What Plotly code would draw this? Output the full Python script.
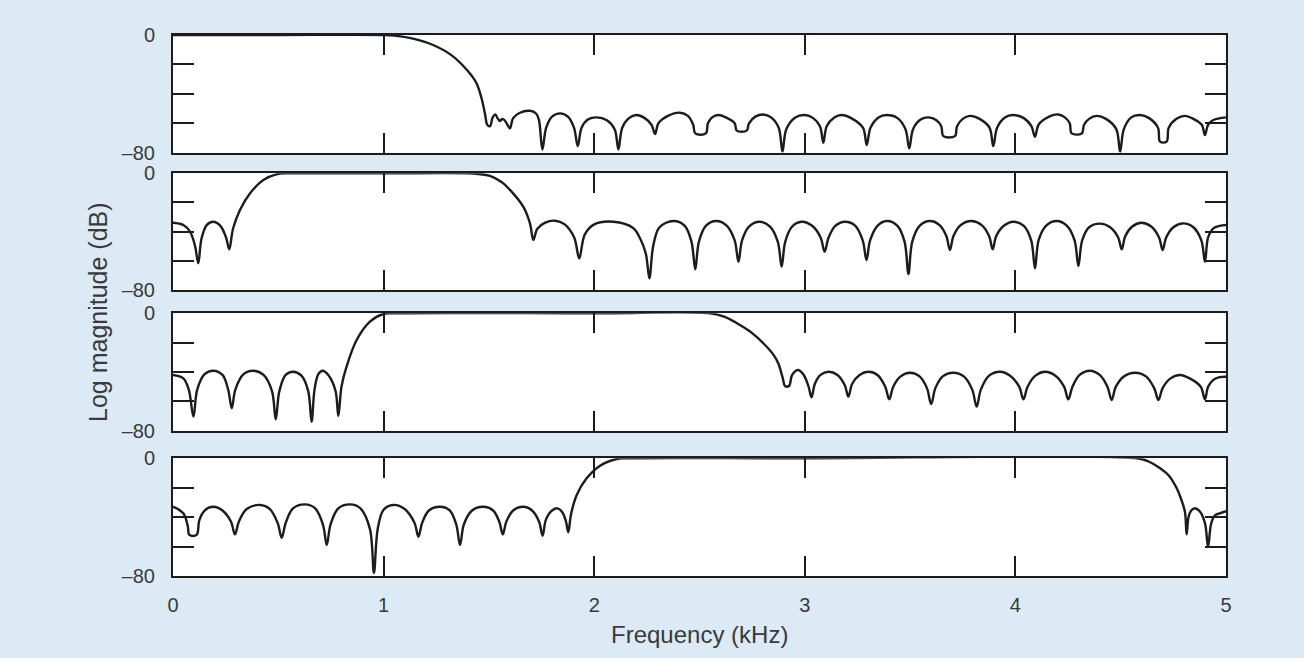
import plotly.graph_objects as go

# ---------------- data: [frequency kHz, magnitude dB] ----------------
panel1_points = [
    [0.0, 0], [0.5, 0], [1.0, 0], [1.05, -0.4], [1.14, -2.5], [1.235, -6.8], [1.32, -13.5], [1.396, -23.8],
    [1.44, -32.5], [1.465, -43], [1.482, -54], [1.492, -61], [1.505, -62], [1.518, -56], [1.53, -54],
    [1.543, -57], [1.553, -58.5], [1.563, -57], [1.575, -58], [1.588, -61], [1.600, -63.5],
    [1.615, -56.5], [1.645, -53], [1.695, -51.5], [1.725, -53.5], [1.738, -58], [1.754, -77.8],
    [1.772, -63], [1.80, -55.5], [1.838, -53.3], [1.875, -55.5], [1.904, -63], [1.922, -75.5],
    [1.94, -63], [1.97, -57.5], [2.012, -56], [2.06, -58], [2.097, -64], [2.115, -77.8],
    [2.133, -63], [2.165, -56.5], [2.20, -54.4], [2.24, -56.5], [2.272, -61], [2.289, -67.3],
    [2.305, -60], [2.35, -55], [2.407, -52.8], [2.445, -55], [2.47, -61], [2.48, -66.9], [2.53, -66.9],
    [2.54, -60], [2.56, -56], [2.59, -54.4], [2.625, -56], [2.667, -60], [2.677, -65], [2.724, -65],
    [2.735, -60], [2.765, -55.5], [2.803, -54], [2.84, -56], [2.876, -63], [2.894, -79.3],
    [2.912, -64], [2.955, -56], [3.0, -54.4], [3.04, -56.5], [3.072, -62], [3.088, -73.2],
    [3.104, -62], [3.14, -56], [3.175, -54.4], [3.22, -56.5], [3.276, -63], [3.294, -74.8],
    [3.312, -63], [3.35, -56], [3.389, -54.4], [3.44, -56.5], [3.478, -64], [3.496, -77],
    [3.514, -64], [3.55, -57.5], [3.587, -56], [3.625, -58], [3.648, -62], [3.658, -68.7], [3.713, -68.7],
    [3.723, -62], [3.75, -57], [3.784, -55], [3.83, -57], [3.877, -63], [3.895, -75.5],
    [3.913, -63], [3.95, -56], [3.99, -54.4], [4.04, -56.5], [4.076, -62], [4.093, -69.2],
    [4.11, -61], [4.16, -55.5], [4.204, -54], [4.235, -56], [4.258, -60], [4.267, -66.9], [4.315, -66.9],
    [4.326, -61], [4.35, -57], [4.386, -55], [4.43, -57], [4.479, -64], [4.497, -79.3],
    [4.515, -64], [4.55, -56], [4.592, -54.4], [4.635, -56.5], [4.677, -63], [4.687, -72.5], [4.718, -72.5],
    [4.728, -63], [4.765, -57], [4.805, -55], [4.845, -57], [4.885, -61], [4.90, -68],
    [4.915, -61], [4.94, -57.8], [5.0, -56],
]

panel2_points = [
    [0.0, -33.9], [0.049, -35.4], [0.081, -40], [0.105, -50], [0.12, -61.7],
    [0.135, -45], [0.16, -35.5], [0.191, -33.2], [0.225, -36], [0.252, -44], [0.267, -52.1],
    [0.285, -38], [0.318, -25.2], [0.366, -13.7], [0.429, -4.6], [0.508, -0.2], [0.56, 0], [1.0, 0],
    [1.40, 0], [1.45, -0.5], [1.505, -1.8], [1.56, -6], [1.60, -11.4], [1.663, -22.9], [1.695, -34.3],
    [1.711, -45.7],
    [1.73, -38], [1.765, -34], [1.814, -32.5], [1.86, -35], [1.905, -44], [1.929, -58.3],
    [1.955, -42], [2.0, -35], [2.091, -33.2], [2.185, -37.5], [2.217, -44.4], [2.245, -55], [2.262, -72],
    [2.28, -50], [2.31, -37], [2.376, -32.7], [2.43, -36], [2.462, -47], [2.48, -65.8],
    [2.497, -47], [2.53, -36], [2.58, -32.7], [2.63, -36], [2.667, -46], [2.685, -60.6],
    [2.702, -46], [2.735, -36.5], [2.786, -33.2], [2.835, -36.5], [2.872, -47], [2.89, -64],
    [2.907, -47], [2.94, -36.5], [2.984, -33.2], [3.035, -36], [3.075, -44], [3.094, -53.7],
    [3.113, -44], [3.145, -36], [3.191, -33.2], [3.24, -36], [3.275, -46], [3.293, -59.4],
    [3.31, -46], [3.345, -36], [3.389, -32.7], [3.44, -36], [3.474, -47], [3.492, -69],
    [3.51, -47], [3.545, -36], [3.594, -32.7], [3.64, -35.5], [3.672, -43], [3.689, -52.6],
    [3.706, -43], [3.74, -35.5], [3.792, -32.7], [3.84, -35.5], [3.875, -43], [3.892, -52.1],
    [3.909, -43], [3.945, -36], [3.99, -33.2], [4.04, -36], [4.075, -46], [4.093, -65.1],
    [4.11, -46], [4.145, -36], [4.196, -32.7], [4.245, -36], [4.281, -46], [4.299, -63.5],
    [4.317, -46], [4.35, -37], [4.401, -34.5], [4.45, -37], [4.488, -44], [4.505, -52.1],
    [4.522, -43], [4.555, -36.5], [4.598, -33.9], [4.645, -36.5], [4.682, -44], [4.699, -52.6],
    [4.716, -44], [4.75, -37], [4.797, -34.3], [4.845, -37], [4.883, -46], [4.90, -60.6],
    [4.915, -44], [4.94, -37.7], [4.97, -36], [5.0, -35.4],
]

panel3_points = [
    [0.0, -42], [0.049, -44.3], [0.075, -52], [0.097, -70.4],
    [0.115, -52], [0.15, -41.5], [0.191, -39.1], [0.235, -42], [0.262, -52], [0.279, -64.7],
    [0.296, -52], [0.335, -41.5], [0.381, -39.1], [0.43, -42], [0.47, -53], [0.488, -72.2],
    [0.505, -53], [0.535, -42], [0.571, -39.8], [0.61, -42.5], [0.642, -53], [0.658, -73.9],
    [0.672, -52], [0.69, -41.5], [0.711, -39.1], [0.74, -42.5], [0.772, -53], [0.785, -70],
    [0.80, -50], [0.824, -36.4], [0.872, -18.2], [0.935, -5.7], [0.998, -0.5], [1.05, 0], [2.0, 0],
    [2.55, 0], [2.62, -2.5], [2.692, -8], [2.75, -13.5], [2.803, -20.4], [2.85, -28], [2.874, -34],
    [2.895, -44], [2.906, -49.5], [2.925, -49.5],
    [2.94, -42], [2.968, -38.6], [2.995, -42], [3.018, -50], [3.032, -57.2],
    [3.048, -48], [3.075, -42], [3.112, -39.8], [3.155, -42], [3.19, -49], [3.207, -56.8],
    [3.225, -48], [3.26, -42], [3.302, -39.8], [3.345, -42], [3.382, -50], [3.401, -58.6],
    [3.42, -50], [3.455, -43], [3.50, -40.5], [3.545, -43], [3.58, -51], [3.60, -61.8],
    [3.62, -51], [3.655, -43], [3.705, -40.5], [3.755, -43], [3.795, -52], [3.816, -63.6],
    [3.836, -52], [3.875, -42.5], [3.927, -39.8], [3.975, -42.5], [4.018, -50], [4.038, -58.6],
    [4.058, -50], [4.095, -42.5], [4.14, -39.8], [4.19, -42.5], [4.231, -50], [4.251, -58.6],
    [4.271, -50], [4.305, -42], [4.354, -39.1], [4.4, -42], [4.437, -50], [4.457, -59.1],
    [4.477, -50], [4.515, -43], [4.568, -40.5], [4.62, -43], [4.659, -51], [4.679, -59.1],
    [4.699, -51], [4.735, -44.5], [4.782, -42], [4.83, -44.5], [4.88, -50], [4.90, -58.6],
    [4.915, -50], [4.94, -45.4], [4.97, -43.5], [5.0, -43.2],
]

panel4_points = [
    [0.0, -32.9], [0.049, -37.4], [0.07, -46], [0.078, -52.1], [0.112, -52.1],
    [0.125, -42], [0.15, -35.5], [0.191, -32.9], [0.235, -35.5], [0.275, -43], [0.294, -51.7],
    [0.313, -43], [0.35, -34.5], [0.413, -31.7], [0.46, -34.5], [0.497, -44], [0.516, -54],
    [0.535, -44], [0.57, -34], [0.627, -31.3], [0.675, -34], [0.712, -45], [0.73, -58.9],
    [0.748, -45], [0.785, -34], [0.84, -31.3], [0.89, -34], [0.935, -48], [0.954, -77.8],
    [0.972, -48], [1.0, -35], [1.046, -31.7], [1.1, -34.5], [1.147, -44], [1.165, -53.3],
    [1.183, -44], [1.215, -35.5], [1.268, -32.9], [1.315, -35.5], [1.345, -45], [1.363, -58.9],
    [1.381, -45], [1.42, -35.5], [1.473, -32.9], [1.52, -35.5], [1.549, -43], [1.566, -51.7],
    [1.583, -43], [1.615, -35.5], [1.663, -32.9], [1.705, -35.5], [1.738, -43], [1.755, -52.6],
    [1.77, -42], [1.795, -36], [1.825, -34], [1.85, -37], [1.866, -43], [1.877, -50.3],
    [1.89, -38], [1.917, -24.9], [1.964, -13.6], [2.028, -5], [2.107, -0.5], [2.15, 0], [3.0, 0],
    [4.576, 0], [4.63, -2], [4.687, -6.8], [4.73, -12], [4.766, -20.4], [4.785, -27], [4.805, -36.3],
    [4.813, -51.7],
    [4.822, -40], [4.835, -35.5], [4.852, -34], [4.875, -36], [4.9, -44], [4.915, -60.1],
    [4.93, -44], [4.95, -38.5], [4.97, -37.4], [5.0, -36],
]

x_tick_vals = [0, 1, 2, 3, 4, 5]
x_tick_text = ["0", "1", "2", "3", "4", "5"]
y_tick_vals = [0, -20, -40, -60, -80]
y_tick_text = ["0", "", "", "", "\u201380"]
x_title = "Frequency (kHz)"
y_title = "Log magnitude (dB)"

# ---------------- figure ----------------
W, H = 1304, 658
x_dom = [173 / W, 1226 / W]
panels_px = [(35, 152.7), (173.3, 290), (313.3, 430.7), (458.3, 576)]
series = [panel1_points, panel2_points, panel3_points, panel4_points]

font_family = "Liberation Sans, Arial, Helvetica, sans-serif"
txt_color = "#3a3a3a"
ink = "#1c1c1c"

fig = go.Figure()
layout_axes = {}
for i, (pts, (top, bot)) in enumerate(zip(series, panels_px), start=1):
    sfx = "" if i == 1 else str(i)
    fig.add_trace(go.Scatter(
        x=[p[0] for p in pts], y=[p[1] for p in pts], mode="lines",
        line=dict(color=ink, width=2.4, shape="spline", smoothing=1.0),
        xaxis="x" + sfx, yaxis="y" + sfx, showlegend=False, hoverinfo="skip"))
    last = (i == 4)
    layout_axes["xaxis" + sfx] = dict(
        domain=x_dom, anchor="y" + sfx, range=[0, 5],
        tickvals=x_tick_vals if last else x_tick_vals[1:-1],
        ticktext=x_tick_text if last else None,
        showticklabels=last, automargin=False,
        ticks="inside", ticklen=20, tickwidth=1.5, tickcolor=ink,
        showline=True, linecolor=ink, linewidth=2, mirror="ticks",
        showgrid=False, zeroline=False, ticklabelstandoff=10,
        tickfont=dict(family=font_family, size=20, color=txt_color))
    layout_axes["yaxis" + sfx] = dict(
        domain=[1 - bot / H, 1 - top / H], anchor="x" + sfx, range=[-80, 0],
        tickvals=y_tick_vals, ticktext=y_tick_text, automargin=False,
        ticks="inside", ticklen=21, tickwidth=1.5, tickcolor=ink,
        showline=True, linecolor=ink, linewidth=2, mirror="ticks",
        showgrid=False, zeroline=False, ticklabelstandoff=12,
        tickfont=dict(family=font_family, size=20, color=txt_color))

fig.update_layout(
    width=W, height=H,
    margin=dict(l=0, r=0, t=0, b=0, pad=0),
    paper_bgcolor="#dbeaf5",
    plot_bgcolor="white",
    showlegend=False,
    annotations=[
        dict(text=x_title, x=(173 + 1226) / 2 / W, y=1 - 634 / H, xref="paper", yref="paper",
             showarrow=False, xanchor="center", yanchor="middle",
             font=dict(family=font_family, size=24, color=txt_color)),
        dict(text=y_title, x=98 / W, y=1 - 312 / H, xref="paper", yref="paper",
             showarrow=False, xanchor="center", yanchor="middle", textangle=-90,
             font=dict(family=font_family, size=25, color=txt_color)),
    ],
    **layout_axes,
)

fig.write_html("out.html")
